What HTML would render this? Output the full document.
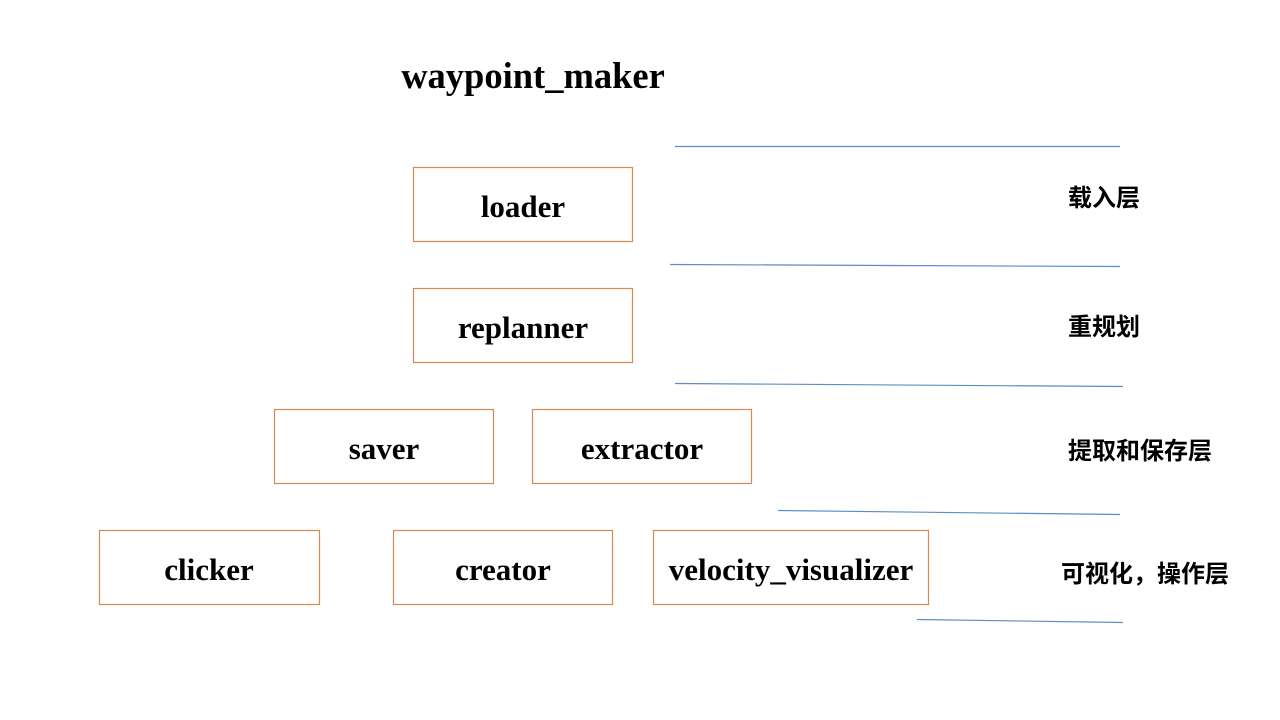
<!DOCTYPE html>
<html><head><meta charset="utf-8"><style>
html,body{margin:0;padding:0;background:#fff;width:1280px;height:720px;overflow:hidden}
svg{display:block}
.b{fill:#fff;stroke:#d9894f;stroke-width:1.2}
.t{font-family:"Liberation Serif",serif;font-weight:bold;font-size:31px;fill:#000;text-anchor:middle}
.c{font-family:"Liberation Sans","Noto Sans CJK SC",sans-serif;font-weight:bold;font-size:24px;fill:#000}
.l{stroke:#5b8ec6;stroke-width:1.2}
</style></head><body>
<svg width="1280" height="720" viewBox="0 0 1280 720">
<text x="533" y="88" class="t" style="font-size:36.5px">waypoint_maker</text>
<line class="l" x1="675" y1="146.5" x2="1120" y2="146.5"/>
<line class="l" x1="670" y1="264.5" x2="1120" y2="266.5"/>
<line class="l" x1="675" y1="383.5" x2="1123" y2="386.5"/>
<line class="l" x1="778" y1="510.5" x2="1120" y2="514.5"/>
<line class="l" x1="917" y1="619.5" x2="1123" y2="622.5"/>
<rect class="b" x="413.5" y="167.5" width="219" height="74"/>
<text x="523" y="217" class="t">loader</text>
<rect class="b" x="413.5" y="288.5" width="219" height="74"/>
<text x="523" y="338" class="t">replanner</text>
<rect class="b" x="274.5" y="409.5" width="219" height="74"/>
<text x="384" y="459" class="t">saver</text>
<rect class="b" x="532.5" y="409.5" width="219" height="74"/>
<text x="642" y="459" class="t">extractor</text>
<rect class="b" x="99.5" y="530.5" width="220" height="74"/>
<text x="209" y="580" class="t">clicker</text>
<rect class="b" x="393.5" y="530.5" width="219" height="74"/>
<text x="503" y="580" class="t">creator</text>
<rect class="b" x="653.5" y="530.5" width="275" height="74"/>
<text x="791" y="580" class="t">velocity_visualizer</text>
<text x="1068" y="206" class="c">载入层</text>
<text x="1068" y="335" class="c">重规划</text>
<text x="1068" y="459" class="c">提取和保存层</text>
<text x="1061" y="582" class="c">可视化，操作层</text>
</svg>
</body></html>
